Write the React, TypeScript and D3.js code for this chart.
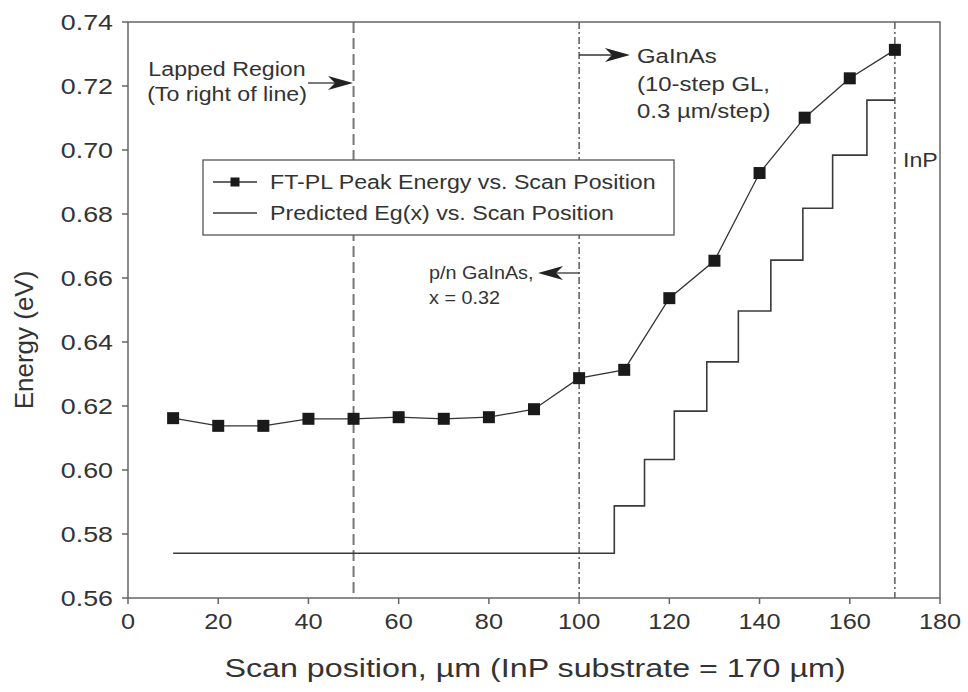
import React from "react";
import * as d3 from "d3";

// ---- data ----
const scanPositions = [10, 20, 30, 40, 50, 60, 70, 80, 90, 100, 110, 120, 130, 140, 150, 160, 170];
const peakEnergy = [0.6162, 0.6138, 0.6138, 0.616, 0.616, 0.6165, 0.616, 0.6165, 0.619, 0.6287, 0.6313, 0.6537, 0.6654, 0.6928, 0.7101, 0.7224, 0.7313];
const stepEdges = [10, 107.8, 114.5, 121.1, 128.3, 135.3, 142.5, 149.6, 156.2, 163.8, 170];
const stepLevels = [0.574, 0.5888, 0.6033, 0.6184, 0.6338, 0.6497, 0.6656, 0.6818, 0.6984, 0.7156];
const xTicks = [0, 20, 40, 60, 80, 100, 120, 140, 160, 180];
const yTicks = [0.56, 0.58, 0.6, 0.62, 0.64, 0.66, 0.68, 0.7, 0.72, 0.74];
const dashedMarks = [50];
const dashDotMarks = [100, 170];
const legendLabels = ["FT-PL Peak Energy vs. Scan Position", "Predicted Eg(x) vs. Scan Position"];

const FONT = "'Liberation Sans', Arial, Helvetica, sans-serif";
const TXT = "#333";

function T({ x, y, size, children, anchor = "start", sx = 1.16, rotate = 0 }: any) {
  return (
    <text
      transform={`translate(${x},${y}) rotate(${rotate}) scale(${sx},1)`}
      fontFamily={FONT}
      fontSize={size}
      fill={TXT}
      textAnchor={anchor}
    >
      {children}
    </text>
  );
}

function Arrow({ x1, x2, y }: any) {
  const dir = x2 > x1 ? 1 : -1;
  const head = 25, notch = 18, hw = 7;
  const pts = [
    [x2, y],
    [x2 - dir * head, y - hw],
    [x2 - dir * notch, y],
    [x2 - dir * head, y + hw],
  ];
  return (
    <g>
      <line x1={x1} x2={x2 - dir * notch} y1={y} y2={y} stroke="#333" strokeWidth={1.3} />
      <polygon points={pts.map((p) => p.join(",")).join(" ")} fill="#222" />
    </g>
  );
}

export default function App() {
  const W = 968, H = 692;
  const x = d3.scaleLinear().domain([0, 180]).range([128, 940]);
  const y = d3.scaleLinear().domain([0.56, 0.74]).range([598, 22]);
  const [x0, x1] = x.range();
  const [y0, y1] = y.range();

  const dataLine = d3
    .line<number>()
    .x((_, i) => x(scanPositions[i]))
    .y((d) => y(d))
    .curve(d3.curveLinear)(peakEnergy) as string;

  const stepPts: [number, number][] = stepLevels.map((l, i) => [stepEdges[i], l]);
  stepPts.push([stepEdges[stepEdges.length - 1], stepLevels[stepLevels.length - 1]]);
  const stepLine = d3
    .line<[number, number]>()
    .x((d) => x(d[0]))
    .y((d) => y(d[1]))
    .curve(d3.curveStepAfter)(stepPts) as string;

  const ms = 12;
  const lg = { x: 203, y: 160, w: 471, h: 75 };

  return (
    <svg width={W} height={H} style={{ position: "absolute", left: 0, top: 0, background: "#fff" }}>
      <rect x={0} y={0} width={W} height={H} fill="#fff" />
      {/* vertical marker lines */}
      {dashedMarks.map((v) => (
        <line key={v} x1={x(v)} x2={x(v)} y1={y1} y2={y0} stroke="#777" strokeWidth={2} strokeDasharray="11,5" />
      ))}
      {dashDotMarks.map((v) => (
        <line key={v} x1={x(v)} x2={x(v)} y1={y1} y2={y0} stroke="#333" strokeWidth={1.2} strokeDasharray="7,3,2,3" />
      ))}

      {/* predicted step line */}
      <path d={stepLine} fill="none" stroke="#3a3a3a" strokeWidth={1.6} />
      {/* data line */}
      <path d={dataLine} fill="none" stroke="#333" strokeWidth={1.3} />
      {peakEnergy.map((v, i) => (
        <rect key={i} x={x(scanPositions[i]) - ms / 2} y={y(v) - ms / 2} width={ms} height={ms} fill="#1a1a1a" />
      ))}

      {/* frame */}
      <rect x={x0} y={y1} width={x1 - x0} height={y0 - y1} fill="none" stroke="#666" strokeWidth={1.5} />
      {xTicks.map((t) => (
        <g key={t}>
          <line x1={x(t)} x2={x(t)} y1={y0} y2={y0 + 6} stroke="#666" strokeWidth={1.5} />
          <T x={x(t)} y={629} size={22} anchor="middle" sx={1.15}>{t}</T>
        </g>
      ))}
      {yTicks.map((t) => (
        <g key={t}>
          <line x1={x0 - 6} x2={x0} y1={y(t)} y2={y(t)} stroke="#666" strokeWidth={1.5} />
          <T x={113} y={y(t) + 8} size={22} anchor="end" sx={1.22}>{t.toFixed(2)}</T>
        </g>
      ))}

      {/* axis titles */}
      <T x={535} y={677} size={26} anchor="middle" sx={1.24}>Scan position, µm (InP substrate = 170 µm)</T>
      <T x={33} y={y((0.56 + 0.74) / 2) + 30} size={26} anchor="middle" sx={1} rotate={-90}>Energy (eV)</T>

      {/* legend */}
      <rect x={lg.x} y={lg.y} width={lg.w} height={lg.h} fill="#fff" stroke="#555" strokeWidth={1.3} />
      <line x1={213} x2={257} y1={182} y2={182} stroke="#333" strokeWidth={1.3} />
      <rect x={235 - 4.5} y={182 - 4.5} width={9} height={9} fill="#1a1a1a" />
      <T x={270} y={189} size={20}>{legendLabels[0]}</T>
      <line x1={213} x2={257} y1={213} y2={213} stroke="#3a3a3a" strokeWidth={1.6} />
      <T x={270} y={220} size={20}>{legendLabels[1]}</T>

      {/* annotations */}
      <T x={227} y={76} size={20} anchor="middle">Lapped Region</T>
      <T x={227} y={101} size={20} anchor="middle">(To right of line)</T>
      <Arrow x1={308} x2={353} y={83} />

      <Arrow x1={x(100)} x2={630} y={55} />
      <T x={637} y={63} size={21} sx={1.14}>GaInAs</T>
      <T x={637} y={91} size={21} sx={1.14}>(10-step GL,</T>
      <T x={637} y={118} size={21} sx={1.14}>0.3 µm/step)</T>

      <Arrow x1={x(100)} x2={538} y={273} />
      <T x={429} y={279} size={18} sx={1.1}>p/n GaInAs,</T>
      <T x={429} y={304} size={18} sx={1.1}>x = 0.32</T>

      <T x={903} y={167} size={20}>InP</T>
    </svg>
  );
}
